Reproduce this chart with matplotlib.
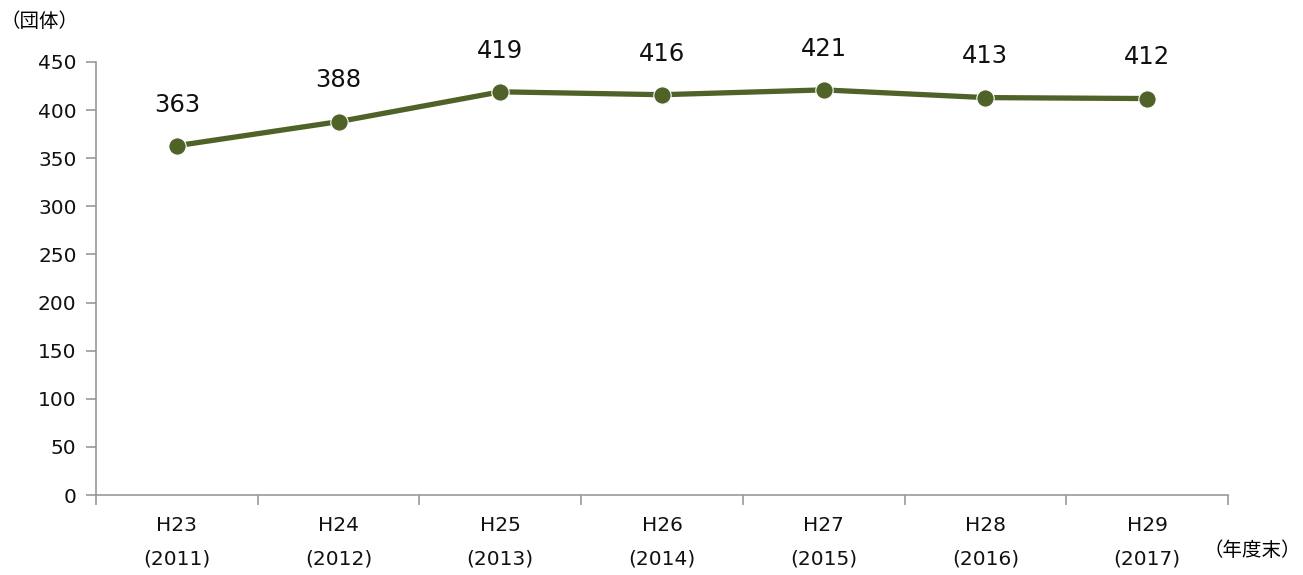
import matplotlib.pyplot as plt

# data
years = ["H23\n(2011)", "H24\n(2012)", "H25\n(2013)", "H26\n(2014)",
         "H27\n(2015)", "H28\n(2016)", "H29\n(2017)"]
counts = [363, 388, 419, 416, 421, 413, 412]
yticks = list(range(0, 451, 50))

line_color = "#4F6228"
axis_color = "#999999"

fig = plt.figure(figsize=(13.03, 5.75), dpi=100)
ax = fig.add_axes([0.0737, 0.1391, 0.8687, 0.7531])

x = list(range(len(years)))
ax.plot(x, counts, color=line_color, lw=3.8, marker="o", markersize=12.5,
        markerfacecolor=line_color, markeredgecolor="white", markeredgewidth=0.8,
        solid_capstyle="round", zorder=3)

for xi, v in zip(x, counts):
    ax.annotate(str(v), (xi, v), xytext=(0, 21), textcoords="offset points",
                ha="center", va="bottom", fontsize=17.5, color="#111111")

ax.set_xlim(-0.5, len(years) - 0.5)
ax.set_ylim(0, 450)
ax.set_yticks(yticks)
ax.set_yticklabels([str(t) for t in yticks], fontsize=14.5, color="#111111")

# category labels centred, tick marks between categories
ax.set_xticks([i - 0.5 for i in range(len(years) + 1)])
ax.set_xticklabels([])
ax.set_xticks(x, minor=True)
ax.set_xticklabels(years, minor=True, fontsize=14.5, color="#111111", linespacing=2.0)
ax.tick_params(axis="x", which="minor", length=0, pad=15)
ax.tick_params(axis="x", which="major", direction="out", length=7,
               color=axis_color, width=1.2)
ax.tick_params(axis="y", direction="out", length=7, color=axis_color, width=1.2, pad=7)

for s in ["top", "right"]:
    ax.spines[s].set_visible(False)
for s in ["left", "bottom"]:
    ax.spines[s].set_color(axis_color)
    ax.spines[s].set_linewidth(1.2)

cjk = ["Noto Sans CJK JP", "DejaVu Sans"]
fig.text(0.0, 0.963, "（団体）", family=cjk, fontsize=14, ha="left", va="center")
fig.text(0.924, 0.043, "（年度末）", family=cjk, fontsize=14, ha="left", va="center")

fig.savefig("out.png", dpi=100)
